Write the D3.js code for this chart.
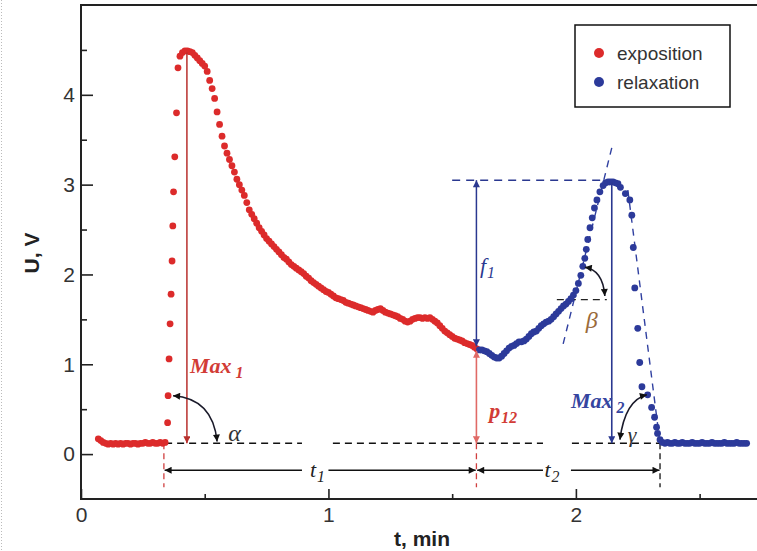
<!DOCTYPE html>
<meta charset="utf-8">
<style>
body { margin: 0; background: #fff; }
.tick text { font-family: "Liberation Sans", Arial, sans-serif; font-size: 21px; fill: #333; }
.tick line { stroke: #222; stroke-width: 1.6px; }
.lab { font-family: "Liberation Sans", Arial, sans-serif; font-size: 21px; font-weight: bold; fill: #222; }
.ann { font-family: "Liberation Serif", "Times New Roman", serif; font-style: italic; }
.leg { font-family: "Liberation Sans", Arial, sans-serif; font-size: 19px; fill: #333; }
</style>
<body>
<script src="https://d3js.org/d3.v7.min.js"></script>
<script>

// tick values
var xMajor = [0, 1, 2], xMinor = [0.5, 1.5, 2.5];
var yMajor = [0, 1, 2, 3, 4], yMinor = [0.5, 1.5, 2.5, 3.5, 4.5];

// exposition series [t (min), U (V)]
var exposition = [
  [0.07,0.17],[0.08,0.15],[0.09,0.13],[0.10,0.12],[0.11,0.11],[0.12,0.12],[0.13,0.11],[0.14,0.12],
  [0.15,0.11],[0.16,0.12],[0.17,0.11],[0.18,0.12],[0.19,0.12],[0.20,0.11],[0.21,0.12],[0.22,0.12],
  [0.23,0.11],[0.24,0.12],[0.25,0.12],[0.26,0.13],[0.27,0.12],[0.28,0.12],[0.29,0.13],[0.30,0.12],
  [0.31,0.12],[0.32,0.13],[0.33,0.12],[0.34,0.13],
  [0.350,0.35],[0.352,0.65],[0.356,1.06],[0.360,1.45],[0.364,1.78],[0.368,2.15],[0.371,2.54],
  [0.374,2.92],[0.379,3.31],[0.386,3.80],[0.392,4.30],
  [0.40,4.43],[0.41,4.47],[0.42,4.49],[0.43,4.49],[0.44,4.48],[0.45,4.47],[0.46,4.44],[0.47,4.41],
  [0.48,4.38],[0.49,4.35],[0.50,4.32],[0.51,4.26],[0.52,4.16],[0.53,4.07],[0.54,3.96],[0.55,3.81],
  [0.56,3.67],[0.57,3.54],[0.58,3.43],[0.59,3.35],[0.60,3.28],[0.61,3.21],[0.62,3.14],[0.63,3.06],
  [0.64,3.00],[0.65,2.94],[0.66,2.88],[0.67,2.80],[0.68,2.72],[0.69,2.67],[0.70,2.62],[0.71,2.57],
  [0.72,2.52],[0.73,2.48],[0.74,2.44],[0.75,2.40],[0.76,2.37],[0.77,2.34],[0.78,2.31],[0.79,2.28],
  [0.80,2.25],[0.81,2.22],[0.82,2.19],[0.83,2.17],[0.84,2.14],[0.85,2.11],[0.86,2.09],[0.87,2.07],
  [0.88,2.05],[0.89,2.03],[0.90,2.01],[0.91,1.98],[0.92,1.96],[0.93,1.93],[0.94,1.91],[0.95,1.89],
  [0.96,1.87],[0.97,1.85],[0.98,1.83],[0.99,1.81],[1.00,1.80],[1.01,1.78],[1.02,1.76],[1.03,1.74],
  [1.04,1.73],[1.05,1.72],[1.06,1.71],[1.07,1.69],[1.08,1.68],[1.09,1.67],[1.10,1.66],[1.11,1.65],
  [1.12,1.64],[1.13,1.63],[1.14,1.62],[1.15,1.61],[1.16,1.60],[1.17,1.59],[1.18,1.58],[1.19,1.60],
  [1.20,1.61],[1.21,1.62],[1.22,1.60],[1.23,1.58],[1.24,1.57],[1.25,1.56],[1.26,1.55],[1.27,1.54],
  [1.28,1.53],[1.29,1.51],[1.30,1.50],[1.31,1.48],[1.32,1.47],[1.33,1.48],[1.34,1.50],[1.35,1.51],
  [1.36,1.52],[1.37,1.52],[1.38,1.51],[1.39,1.52],[1.40,1.51],[1.41,1.52],[1.42,1.50],[1.43,1.48],
  [1.44,1.46],[1.45,1.43],[1.46,1.40],[1.47,1.37],[1.48,1.35],[1.49,1.33],[1.50,1.31],[1.51,1.29],
  [1.52,1.28],[1.53,1.27],[1.54,1.26],[1.55,1.24],[1.56,1.23],[1.57,1.22],[1.58,1.21],[1.59,1.19],
  [1.60,1.17]
];

// relaxation series [t (min), U (V)]
var relaxation = [
  [1.61,1.16],[1.62,1.16],[1.63,1.15],[1.64,1.14],[1.65,1.12],[1.66,1.10],[1.67,1.08],[1.68,1.07],
  [1.69,1.07],[1.70,1.09],[1.71,1.12],[1.72,1.15],[1.73,1.18],[1.74,1.20],[1.75,1.21],[1.76,1.23],
  [1.77,1.25],[1.78,1.25],[1.79,1.26],[1.80,1.28],[1.81,1.31],[1.82,1.34],[1.83,1.36],[1.84,1.37],
  [1.85,1.40],[1.86,1.43],[1.87,1.45],[1.88,1.47],[1.89,1.48],[1.90,1.50],[1.91,1.53],[1.92,1.56],
  [1.93,1.59],[1.94,1.62],[1.95,1.65],[1.96,1.67],[1.97,1.70],[1.98,1.73],[1.99,1.77],[2.00,1.82],
  [2.01,1.90],[2.02,1.99],[2.028,2.09],[2.036,2.18],[2.042,2.28],[2.048,2.39],[2.057,2.52],
  [2.066,2.63],[2.075,2.74],[2.085,2.83],[2.097,2.92],[2.11,2.99],[2.12,3.02],[2.13,3.03],
  [2.14,3.03],[2.15,3.03],[2.16,3.02],[2.17,3.01],[2.18,2.97],[2.20,2.90],[2.218,2.83],
  [2.226,2.66],[2.232,2.30],[2.238,1.85],[2.25,1.40],[2.258,1.02],[2.267,0.75],[2.29,0.66],
  [2.306,0.52],[2.318,0.41],[2.326,0.30],[2.33,0.23],[2.34,0.16],[2.35,0.13],
  [2.36,0.12],[2.37,0.13],[2.38,0.12],[2.39,0.12],[2.40,0.13],[2.41,0.12],[2.42,0.12],[2.43,0.13],
  [2.44,0.12],[2.45,0.12],[2.46,0.12],[2.47,0.13],[2.48,0.12],[2.49,0.12],[2.50,0.12],[2.51,0.13],
  [2.52,0.12],[2.53,0.12],[2.54,0.12],[2.55,0.13],[2.56,0.12],[2.57,0.12],[2.58,0.12],[2.59,0.12],
  [2.60,0.13],[2.61,0.12],[2.62,0.12],[2.63,0.12],[2.64,0.12],[2.65,0.13],[2.66,0.12],[2.67,0.12],
  [2.68,0.12],[2.69,0.12]
];

var red = "#dc2b2b", blue = "#2c3a9a";

var svg = d3.select("body").append("svg")
    .attr("width", 757)
    .attr("height", 551);

var x = d3.scaleLinear().domain([0, 2.74]).range([81, 759]);
var y = d3.scaleLinear().domain([-0.5, 5]).range([499, 5]);

// arrow markers
var defs = svg.append("defs");
[["blk", "#111"], ["red", "#b8302d"], ["pink", "#e06a66"], ["blu", "#2a3890"]].forEach(function(m) {
  defs.append("marker")
      .attr("id", "ar-" + m[0])
      .attr("viewBox", "0 0 10 10")
      .attr("refX", 10).attr("refY", 5)
      .attr("markerWidth", 9).attr("markerHeight", 7)
      .attr("markerUnits", "userSpaceOnUse")
      .attr("orient", "auto-start-reverse")
    .append("path")
      .attr("d", "M0,0 L10,5 L0,10 z")
      .attr("fill", m[1]);
});

// faint page border at left
svg.append("line")
    .attr("x1", 1.5).attr("x2", 1.5).attr("y1", 0).attr("y2", 551)
    .attr("stroke", "#bbb").attr("stroke-dasharray", "1,2");

// axes
svg.append("g").attr("transform", "translate(0,499)")
    .call(d3.axisBottom(x).tickValues(xMajor).tickSize(-10).tickPadding(8).tickFormat(d3.format("d")))
    .call(function(g) { g.select(".domain").remove(); });
svg.append("g").attr("transform", "translate(0,499)")
    .call(d3.axisBottom(x).tickValues(xMinor).tickSize(-5).tickFormat(""))
    .call(function(g) { g.select(".domain").remove(); });
svg.append("g").attr("transform", "translate(81,0)")
    .call(d3.axisLeft(y).tickValues(yMajor).tickSize(-12).tickPadding(6).tickFormat(d3.format("d")))
    .call(function(g) { g.select(".domain").remove(); });
svg.append("g").attr("transform", "translate(81,0)")
    .call(d3.axisLeft(y).tickValues(yMinor).tickSize(-6).tickFormat(""))
    .call(function(g) { g.select(".domain").remove(); });

// frame (right side runs off the page)
svg.append("path")
    .attr("d", "M" + x.range()[1] + "," + y(5) + "H" + x(0) + "V" + y(-0.5) + "H" + x.range()[1])
    .attr("fill", "none").attr("stroke", "#222").attr("stroke-width", 2);

// axis titles
svg.append("text").attr("class", "lab")
    .attr("x", 422).attr("y", 546).attr("text-anchor", "middle").text("t, min");
svg.append("text").attr("class", "lab")
    .attr("transform", "translate(39," + 253 + ") rotate(-90)")
    .attr("text-anchor", "middle").text("U, V");

function seg(x1, y1, x2, y2, color, w, dash, m1, m2) {
  var l = svg.append("line")
      .attr("x1", x(x1)).attr("y1", y(y1)).attr("x2", x(x2)).attr("y2", y(y2))
      .attr("stroke", color).attr("stroke-width", w);
  if (dash) l.attr("stroke-dasharray", dash);
  if (m1) l.attr("marker-start", "url(#ar-" + m1 + ")");
  if (m2) l.attr("marker-end", "url(#ar-" + m2 + ")");
  return l;
}

function arc(p0, c, p1) {
  svg.append("path")
      .attr("d", "M" + x(p0[0]) + "," + y(p0[1]) + "Q" + x(c[0]) + "," + y(c[1]) + " " + x(p1[0]) + "," + y(p1[1]))
      .attr("fill", "none").attr("stroke", "#1a1a2a").attr("stroke-width", 1.6)
      .attr("marker-start", "url(#ar-blk)").attr("marker-end", "url(#ar-blk)");
}

var base = 0.12;

// baseline, dashed with gaps
seg(0.34, base, 0.893, base, "#111", 1.6, "7,5");
seg(1.018, base, 1.867, base, "#111", 1.6, "7,5");
seg(1.984, base, 2.34, base, "#111", 1.6, "7,5");

// vertical markers below baseline
seg(0.335, base, 0.335, -0.37, "#d04040", 1.3, "6,4");
seg(1.598, base, 1.598, -0.37, "#d04040", 1.3, "6,4");
seg(2.34, base, 2.34, -0.37, "#111", 1.3, "6,4");

// t1, t2 spans
seg(0.893, -0.18, 0.338, -0.18, "#111", 1.5, null, null, "blk");
seg(1.0, -0.18, 1.595, -0.18, "#111", 1.5, null, null, "blk");
seg(1.867, -0.18, 1.601, -0.18, "#111", 1.5, null, null, "blk");
seg(1.98, -0.18, 2.338, -0.18, "#111", 1.5, null, null, "blk");

// f1 top dashed level and tangents
seg(1.50, 3.05, 2.125, 3.05, "#2a3890", 1.5, "8,6");
seg(2.145, 3.41, 1.947, 1.21, "#3040a0", 1.4, "7,6");
seg(1.923, 1.72, 2.125, 1.72, "#222", 1.4, "7,5");
seg(2.21, 2.94, 2.34, base, "#3040a0", 1.4, "7,6");

// data points
svg.append("g").selectAll("circle")
    .data(exposition)
  .enter().append("circle")
    .attr("cx", function(d) { return x(d[0]); })
    .attr("cy", function(d) { return y(d[1]); })
    .attr("r", 3.4)
    .attr("fill", red);

svg.append("g").selectAll("circle")
    .data(relaxation)
  .enter().append("circle")
    .attr("cx", function(d) { return x(d[0]); })
    .attr("cy", function(d) { return y(d[1]); })
    .attr("r", 3.4)
    .attr("fill", blue);

// vertical measurement arrows
seg(0.428, 4.47, 0.428, base, "#b8302d", 1.5, null, null, "red");
seg(1.598, 1.2, 1.598, 3.05, "#2a3890", 1.5, null, "blu", "blu");
seg(1.598, 1.15, 1.598, base, "#e06a66", 1.6, null, "pink", "pink");
seg(2.145, 3.02, 2.145, base, "#2a3890", 1.6, null, null, "blu");

// angle arcs
arc([0.372, 0.65], [0.533, 0.62], [0.55, 0.14]);
arc([2.036, 2.08], [2.109, 2.05], [2.117, 1.76]);
arc([2.287, 0.66], [2.198, 0.60], [2.178, 0.16]);

// annotation labels
function label(t, u, color, main, sub, size, weight, gap) {
  var tx = svg.append("text").attr("class", "ann")
      .attr("x", x(t)).attr("y", y(u))
      .attr("fill", color).attr("font-size", size).attr("font-weight", weight || "normal");
  tx.append("tspan").text(main);
  if (sub) tx.append("tspan").attr("dx", gap == null ? 4 : gap).attr("dy", 5).attr("font-size", size * 0.72).text(sub);
}
label(0.44, 0.9, "#d23c36", "Max", "1", 22, "bold");
label(1.98, 0.51, "#3545a0", "Max", "2", 22, "bold");
label(1.65, 0.40, "#d23c36", "p", "12", 22, "bold", 1);
label(1.612, 2.02, "#2a3890", "f", "1", 22, "normal", 1);
label(0.595, 0.15, "#333", "\u03b1", null, 24);
label(2.04, 1.4, "#9a6a3a", "\u03b2", null, 24);
label(2.21, 0.13, "#333", "\u03b3", null, 22);
label(0.925, -0.26, "#222", "t", "1", 22, "normal", 1);
label(1.873, -0.26, "#222", "t", "2", 22, "normal", 1);

// legend
var leg = svg.append("g");
leg.append("rect").attr("x", 575).attr("y", 25).attr("width", 155).attr("height", 82)
    .attr("fill", "#fff").attr("stroke", "#111").attr("stroke-width", 1.5);
[["exposition", red, 53], ["relaxation", blue, 82]].forEach(function(e) {
  leg.append("circle").attr("cx", 599).attr("cy", e[2]).attr("r", 5).attr("fill", e[1]);
  leg.append("text").attr("class", "leg").attr("x", 617).attr("y", e[2]).attr("dy", "0.35em").text(e[0]);
});

</script>
</body>
